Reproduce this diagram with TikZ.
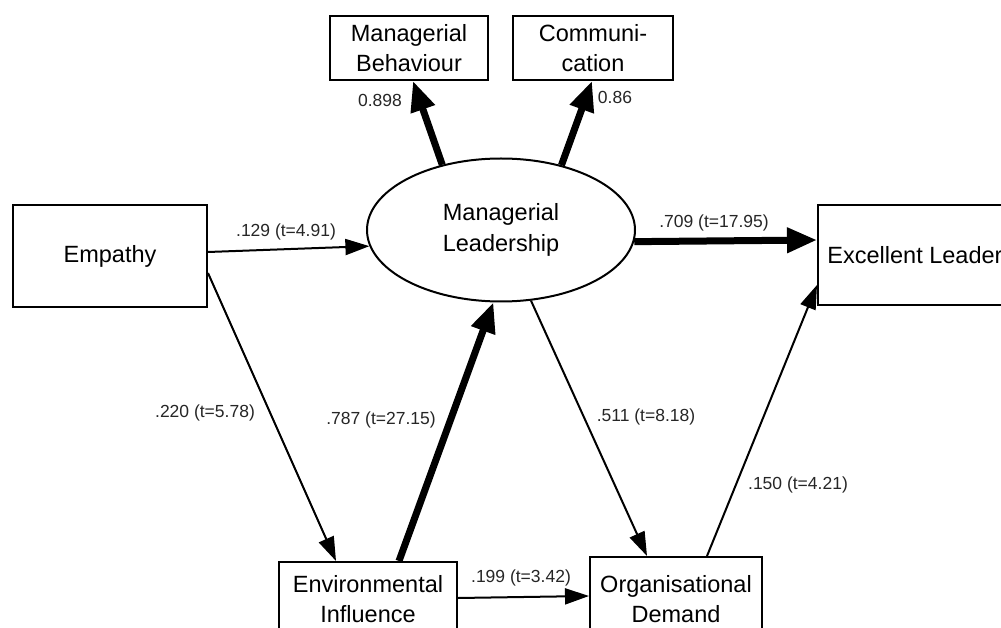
\documentclass[tikz,border=0pt]{standalone}
\usepackage{fontspec}
\setmainfont{Liberation Sans}
\usetikzlibrary{arrows.meta,shapes.geometric}
\tikzset{
  box/.style={draw, line width=2pt, rectangle, inner sep=0pt, align=center,
    font=\fontsize{23.5}{30}\selectfont},
  latent/.style={draw, line width=2pt, ellipse, inner sep=0pt, align=center,
    minimum width=268pt, minimum height=143pt, font=\fontsize{23.5}{31}\selectfont},
  thin/.style={line width=2pt, -{Triangle[length=24pt,width=16pt]}},
  thick/.style={line width=7pt, -{Triangle[length=30pt,width=24pt]}, shorten >=0pt},
  lab/.style={inner sep=0pt, text=black!85, font=\fontsize{17.5}{20}\selectfont}
}
\begin{document}
\begin{tikzpicture}[x=1pt,y=-1pt]
\useasboundingbox (0,0) rectangle (1001,628);
\fill[white] (0,0) rectangle (1001,628);
% nodes
\node[box, minimum width=194pt, minimum height=102pt] (emp) at (110,256) {Empathy};
\node[latent] (ml) at (501,230) {Managerial\\Leadership};
\node[box, minimum width=158pt, minimum height=64pt] (mb) at (409,48) {Managerial\\Behaviour};
\node[box, minimum width=160pt, minimum height=64pt] (com) at (593,48) {Communi-\\cation};
\node[box, minimum width=194pt, minimum height=100pt] (el) at (915,255) {Excellent Leader};
\node[box, minimum width=178pt, minimum height=74pt] (ei) at (368,599) {Environmental\\Influence};
\node[box, minimum width=172pt, minimum height=84pt] (od) at (676,599) {Organisational\\Demand};
% connectors
\draw[thin] ([yshift=4pt]emp.east) -- (ml.187);
\draw[thick] (ml.-5) -- ([yshift=15pt]el.west);
\draw[thick] (ml.132) -- ([xshift=4pt]mb.south);
\draw[thick] (ml.47) -- ([xshift=-1pt]com.south);
\draw[thin] ([yshift=-17pt]emp.east) -- ([xshift=58pt]ei.north west);
\draw[thick] ([xshift=31pt]ei.north) -- (ml.264);
\draw[thin] (ml.-67) -- ([xshift=-29pt]od.north);
\draw[thin] ([xshift=31pt]od.north) -- ([yshift=-30pt]el.west);
\draw[thin] ([yshift=1pt]ei.east) -- ([yshift=3pt]od.west);
% labels
\node[lab] (l1) at (286,232) {.129 (t=4.91)};
\node[lab] (l2) at (714,223) {.709 (t=17.95)};
\node[lab] (l3) at (380,100) {0.898};
\node[lab] (l4) at (615,97) {0.86};
\node[lab] (l5) at (205,413) {.220 (t=5.78)};
\node[lab] (l6) at (381,420) {.787 (t=27.15)};
\node[lab] (l7) at (646,417) {.511 (t=8.18)};
\node[lab] (l8) at (798,485) {.150 (t=4.21)};
\node[lab] (l9) at (521,578) {.199 (t=3.42)};
\end{tikzpicture}
\end{document}
